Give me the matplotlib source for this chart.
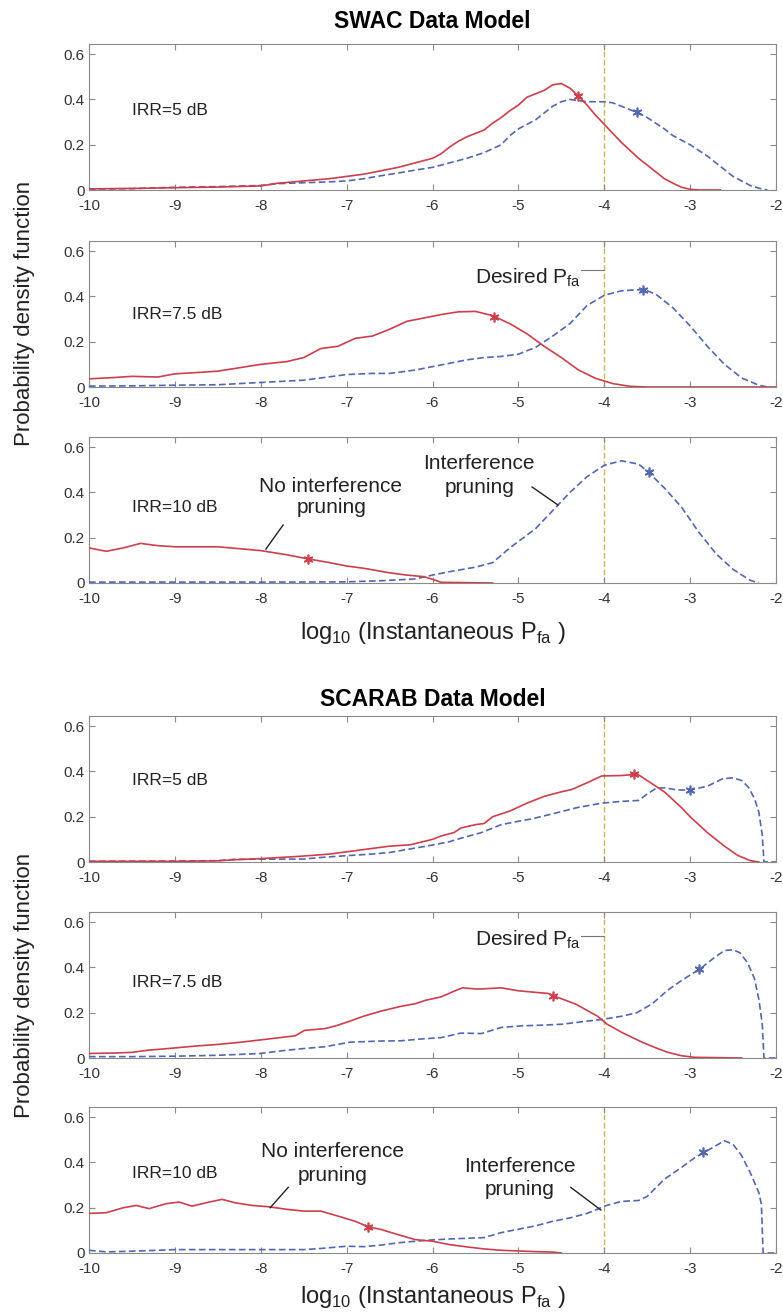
import matplotlib
matplotlib.use("Agg")
import matplotlib.pyplot as plt

plt.rcParams['font.family'] = ['Liberation Sans', 'DejaVu Sans']
plt.rcParams['axes.unicode_minus'] = False
plt.rcParams['mathtext.fontset'] = 'custom'
plt.rcParams['mathtext.rm'] = 'Liberation Sans'

# ---------------- data ----------------
x_ticks = [-10, -9, -8, -7, -6, -5, -4, -3, -2]
x_tick_labels = ['-10', '-9', '-8', '-7', '-6', '-5', '-4', '-3', '-2']
y_ticks = [0, 0.2, 0.4, 0.6]
y_tick_labels = ['0', '0.2', '0.4', '0.6']
desired_pfa = -4.0
model_titles = ['SWAC Data Model', 'SCARAB Data Model']
irr_labels = ['IRR=5 dB', 'IRR=7.5 dB', 'IRR=10 dB']

# SWAC, IRR = 5 dB
swac5_red_x = [-10, -9.5, -9, -8.5, -8, -7.8, -7.5, -7.2, -7.0, -6.8, -6.6, -6.4, -6.2, -6.0, -5.9, -5.8,
               -5.7, -5.6, -5.5, -5.4, -5.3, -5.2, -5.1, -5.0, -4.9, -4.8, -4.7, -4.6, -4.5, -4.4, -4.3,
               -4.2, -4.1, -4.0, -3.9, -3.8, -3.7, -3.6, -3.5, -3.4, -3.3, -3.2, -3.1, -3.0, -2.9, -2.65]
swac5_red_y = [0.005, 0.007, 0.01, 0.013, 0.018, 0.03, 0.04, 0.05, 0.06, 0.07, 0.085, 0.1, 0.12, 0.14, 0.16,
               0.19, 0.215, 0.235, 0.25, 0.265, 0.295, 0.32, 0.35, 0.375, 0.41, 0.425, 0.44, 0.465, 0.47,
               0.45, 0.415, 0.375, 0.33, 0.29, 0.25, 0.21, 0.175, 0.14, 0.11, 0.08, 0.05, 0.03, 0.012,
               0.003, 0.0, 0.0]
swac5_blue_x = [-10, -9.5, -9, -8.5, -8, -7.8, -7.5, -7.2, -7.0, -6.8, -6.6, -6.4, -6.2, -6.0, -5.8, -5.6,
                -5.4, -5.2, -5.1, -5.0, -4.9, -4.8, -4.7, -4.6, -4.5, -4.4, -4.3, -4.2, -4.1, -4.0, -3.9,
                -3.8, -3.7, -3.6, -3.5, -3.4, -3.3, -3.2, -3.0, -2.8, -2.6, -2.5, -2.4, -2.3, -2.2, -2.1]
swac5_blue_y = [0.004, 0.006, 0.012, 0.015, 0.02, 0.028, 0.032, 0.036, 0.04, 0.05, 0.063, 0.075, 0.088,
                0.1, 0.12, 0.14, 0.165, 0.2, 0.24, 0.27, 0.29, 0.31, 0.34, 0.37, 0.39, 0.4, 0.395, 0.39,
                0.39, 0.39, 0.385, 0.37, 0.355, 0.34, 0.32, 0.295, 0.27, 0.24, 0.2, 0.15, 0.09, 0.06, 0.04,
                0.02, 0.008, 0.0]
swac5_red_mark = (-4.3, 0.415)
swac5_blue_mark = (-3.62, 0.345)

# SWAC, IRR = 7.5 dB
swac75_red_x = [-10, -9.7, -9.5, -9.2, -9.0, -8.7, -8.5, -8.2, -8.0, -7.7, -7.5, -7.3, -7.1, -6.9, -6.7,
                -6.5, -6.3, -6.1, -5.9, -5.7, -5.5, -5.3, -5.1, -4.9, -4.7, -4.5, -4.3, -4.1, -3.9, -3.7,
                -3.5, -2.0]
swac75_red_y = [0.036, 0.042, 0.047, 0.044, 0.058, 0.065, 0.07, 0.088, 0.1, 0.112, 0.13, 0.17, 0.18, 0.215,
                0.225, 0.255, 0.29, 0.305, 0.32, 0.332, 0.334, 0.315, 0.28, 0.235, 0.18, 0.13, 0.075, 0.038,
                0.015, 0.003, 0.0, 0.0]
swac75_blue_x = [-10, -9.5, -9.0, -8.5, -8.0, -7.5, -7.2, -7.0, -6.7, -6.5, -6.2, -6.0, -5.8, -5.6, -5.4,
                 -5.2, -5.0, -4.8, -4.6, -4.4, -4.2, -4.0, -3.8, -3.6, -3.5, -3.4, -3.2, -3.0, -2.8, -2.6,
                 -2.4, -2.2, -2.1]
swac75_blue_y = [0.004, 0.005, 0.008, 0.01, 0.02, 0.03, 0.045, 0.055, 0.06, 0.06, 0.075, 0.09, 0.105, 0.12,
                 0.13, 0.135, 0.145, 0.175, 0.225, 0.28, 0.36, 0.405, 0.425, 0.43, 0.425, 0.41, 0.35, 0.27,
                 0.18, 0.1, 0.04, 0.008, 0.0]
swac75_red_mark = (-5.28, 0.31)
swac75_blue_mark = (-3.55, 0.428)

# SWAC, IRR = 10 dB
swac10_red_x = [-10, -9.8, -9.6, -9.4, -9.2, -9.0, -8.5, -8.2, -8.0, -7.7, -7.5, -7.2, -7.0, -6.8, -6.5,
                -6.3, -6.1, -5.95, -5.9, -5.3]
swac10_red_y = [0.155, 0.14, 0.155, 0.175, 0.165, 0.16, 0.16, 0.15, 0.143, 0.125, 0.11, 0.09, 0.075, 0.065,
                0.045, 0.035, 0.028, 0.01, 0.003, 0.0]
swac10_blue_x = [-10, -9, -8, -7, -6.6, -6.2, -6.0, -5.8, -5.5, -5.3, -5.1, -4.8, -4.6, -4.4, -4.2, -4.0,
                 -3.8, -3.6, -3.5, -3.3, -3.1, -2.9, -2.7, -2.5, -2.3, -2.2]
swac10_blue_y = [0.004, 0.004, 0.004, 0.005, 0.01, 0.018, 0.035, 0.05, 0.07, 0.09, 0.155, 0.24, 0.32,
                 0.4, 0.47, 0.52, 0.54, 0.525, 0.495, 0.42, 0.335, 0.225, 0.13, 0.06, 0.012, 0.0]
swac10_red_mark = (-7.45, 0.105)
swac10_blue_mark = (-3.48, 0.49)

# SCARAB, IRR = 5 dB
scarab5_red_x = [-10, -9, -8.5, -8.3, -8.0, -7.55, -7.2, -6.96, -6.7, -6.5, -6.26, -6.0, -5.9, -5.75, -5.67,
                 -5.5, -5.4, -5.3, -5.1, -4.9, -4.7, -4.5, -4.38, -4.2, -4.03, -3.8, -3.7, -3.62, -3.5, -3.3,
                 -3.1, -3.0, -2.8, -2.6, -2.45, -2.3, -2.2]
scarab5_red_y = [0.003, 0.003, 0.005, 0.01, 0.015, 0.025, 0.035, 0.047, 0.06, 0.07, 0.076, 0.1, 0.115, 0.13,
                 0.15, 0.165, 0.17, 0.2, 0.225, 0.26, 0.29, 0.31, 0.32, 0.35, 0.38, 0.382, 0.385, 0.39, 0.36,
                 0.31, 0.24, 0.2, 0.13, 0.07, 0.03, 0.006, 0.0]
scarab5_blue_x = [-10, -9, -8.5, -8.3, -7.5, -7.3, -7.0, -6.7, -6.5, -6.3, -6.0, -5.8, -5.67, -5.43, -5.2,
                  -5.0, -4.85, -4.61, -4.32, -4.03, -3.79, -3.6, -3.5, -3.4, -3.3, -3.15, -3.0, -2.8, -2.62,
                  -2.5, -2.4, -2.32, -2.25, -2.2, -2.16, -2.14, -2.0]
scarab5_blue_y = [0.003, 0.004, 0.006, 0.012, 0.013, 0.02, 0.028, 0.035, 0.042, 0.055, 0.075, 0.09, 0.105,
                  0.13, 0.165, 0.18, 0.19, 0.212, 0.24, 0.26, 0.268, 0.272, 0.3, 0.325, 0.328, 0.318, 0.318,
                  0.335, 0.368, 0.372, 0.36, 0.33, 0.28, 0.22, 0.12, 0.0, 0.0]
scarab5_red_mark = (-3.65, 0.39)
scarab5_blue_mark = (-3.0, 0.318)

# SCARAB, IRR = 7.5 dB
scarab75_red_x = [-10, -9.7, -9.5, -9.3, -9.13, -8.9, -8.72, -8.5, -8.25, -8.0, -7.78, -7.6, -7.49, -7.25,
                  -7.1, -6.96, -6.8, -6.6, -6.37, -6.2, -6.08, -5.9, -5.75, -5.65, -5.5, -5.43, -5.2, -5.0,
                  -4.8, -4.65, -4.58, -4.45, -4.32, -4.2, -4.08, -3.97, -3.79, -3.56, -3.4, -3.26, -3.1,
                  -2.95, -2.4]
scarab75_red_y = [0.02, 0.022, 0.025, 0.035, 0.04, 0.048, 0.054, 0.06, 0.069, 0.08, 0.09, 0.098, 0.122,
                  0.13, 0.145, 0.163, 0.185, 0.207, 0.228, 0.24, 0.255, 0.27, 0.295, 0.31, 0.305, 0.305,
                  0.31, 0.297, 0.29, 0.285, 0.273, 0.255, 0.236, 0.21, 0.185, 0.15, 0.112, 0.07, 0.045,
                  0.025, 0.01, 0.003, 0.0]
scarab75_blue_x = [-10, -9.5, -9.0, -8.5, -8.0, -7.8, -7.55, -7.25, -6.96, -6.6, -6.37, -6.1, -5.9, -5.67,
                   -5.43, -5.2, -4.96, -4.73, -4.5, -4.26, -4.03, -3.79, -3.62, -3.44, -3.26, -3.09, -2.88,
                   -2.73, -2.6, -2.5, -2.42, -2.33, -2.25, -2.2, -2.16, -2.14, -2.0]
scarab75_blue_y = [0.006, 0.006, 0.008, 0.012, 0.02, 0.03, 0.04, 0.05, 0.07, 0.075, 0.076, 0.085, 0.09,
                   0.11, 0.108, 0.135, 0.142, 0.145, 0.149, 0.16, 0.17, 0.185, 0.2, 0.24, 0.3, 0.345, 0.395,
                   0.44, 0.475, 0.478, 0.465, 0.42, 0.35, 0.26, 0.15, 0.0, 0.0]
scarab75_red_mark = (-4.6, 0.272)
scarab75_blue_mark = (-2.9, 0.395)

# SCARAB, IRR = 10 dB
scarab10_red_x = [-10, -9.8, -9.6, -9.45, -9.3, -9.1, -8.95, -8.8, -8.6, -8.45, -8.3, -8.1, -7.9, -7.7,
                  -7.5, -7.3, -7.1, -6.9, -6.75, -6.6, -6.4, -6.2, -6.0, -5.8, -5.6, -5.4, -5.2, -5.0, -4.8,
                  -4.6, -4.5]
scarab10_red_y = [0.175, 0.178, 0.2, 0.21, 0.196, 0.218, 0.225, 0.207, 0.225, 0.237, 0.222, 0.21, 0.204,
                  0.193, 0.185, 0.185, 0.163, 0.14, 0.116, 0.104, 0.081, 0.059, 0.052, 0.037, 0.027, 0.018,
                  0.012, 0.009, 0.006, 0.004, 0.0]
scarab10_blue_x = [-10, -9.8, -9.5, -9.2, -9.0, -8.5, -8.0, -7.5, -7.3, -7.0, -6.8, -6.6, -6.4, -6.2, -6.0,
                   -5.8, -5.6, -5.4, -5.2, -5.0, -4.8, -4.6, -4.4, -4.2, -4.1, -4.0, -3.8, -3.6, -3.5, -3.3,
                   -3.1, -2.95, -2.84, -2.7, -2.6, -2.5, -2.4, -2.3, -2.2, -2.17, -2.15, -2.0]
scarab10_blue_y = [0.012, 0.005, 0.008, 0.012, 0.015, 0.015, 0.015, 0.015, 0.02, 0.03, 0.028, 0.035, 0.045,
                   0.052, 0.058, 0.062, 0.065, 0.068, 0.09, 0.105, 0.12, 0.14, 0.155, 0.175, 0.19, 0.207,
                   0.228, 0.232, 0.25, 0.326, 0.378, 0.42, 0.444, 0.474, 0.496, 0.48, 0.43, 0.355, 0.267,
                   0.215, 0.0, 0.0]
scarab10_red_mark = (-6.75, 0.116)
scarab10_blue_mark = (-2.85, 0.444)

panels = [
    (swac5_red_x, swac5_red_y, swac5_blue_x, swac5_blue_y, swac5_red_mark, swac5_blue_mark),
    (swac75_red_x, swac75_red_y, swac75_blue_x, swac75_blue_y, swac75_red_mark, swac75_blue_mark),
    (swac10_red_x, swac10_red_y, swac10_blue_x, swac10_blue_y, swac10_red_mark, swac10_blue_mark),
    (scarab5_red_x, scarab5_red_y, scarab5_blue_x, scarab5_blue_y, scarab5_red_mark, scarab5_blue_mark),
    (scarab75_red_x, scarab75_red_y, scarab75_blue_x, scarab75_blue_y, scarab75_red_mark, scarab75_blue_mark),
    (scarab10_red_x, scarab10_red_y, scarab10_blue_x, scarab10_blue_y, scarab10_red_mark, scarab10_blue_mark),
]

# ---------------- layout ----------------
W, H = 783, 1315
fig = plt.figure(figsize=(W / 100, H / 100), dpi=100)
fig.patch.set_facecolor('white')

ax_left_px, ax_right_px = 89, 776
ax_h_px = 146
ax_bottoms_px = [190, 387, 583, 862, 1058, 1253]

RED = '#cc3f4c'
BLUE = '#5566b0'
VLINE = '#c9b45a'
SPINE = '#8a8a8a'
TXT = '#222222'
asterisk = (6, 2, 0)

irr_y = [0.331, 0.30, 0.313, 0.34, 0.313, 0.33]

axes = []
for i, (rx, ry, bx, by, rm, bm) in enumerate(panels):
    b = ax_bottoms_px[i]
    ax = fig.add_axes([ax_left_px / W, 1 - b / H, (ax_right_px - ax_left_px) / W, ax_h_px / H])
    axes.append(ax)
    ax.axvline(desired_pfa, color=VLINE, lw=1.0, ls=(0, (4, 2)), zorder=1)
    ax.plot(bx, by, color=BLUE, lw=1.2, ls=(0, (4, 2)), zorder=3)
    ax.plot(rx, ry, color=RED, lw=1.2, zorder=4)
    ax.plot([rm[0]], [rm[1]], ls='none', marker=asterisk, ms=7, mec=RED, mew=1.2, zorder=5)
    ax.plot([bm[0]], [bm[1]], ls='none', marker=asterisk, ms=7, mec=BLUE, mew=1.2, zorder=5)
    ax.set_xlim(-10, -2)
    ax.set_ylim(0, 0.645)
    ax.set_xticks(x_ticks)
    ax.set_xticklabels(x_tick_labels)
    ax.set_yticks(y_ticks)
    ax.set_yticklabels(y_tick_labels)
    ax.tick_params(direction='in', length=4, width=0.8, color=SPINE, top=True, right=True,
                   labelsize=11, labelcolor='#333333')
    ax.tick_params(axis='x', pad=6.5)
    ax.tick_params(axis='y', pad=3)
    for s in ax.spines.values():
        s.set_color(SPINE)
        s.set_linewidth(0.8)
    ax.text(-9.5, irr_y[i], irr_labels[i % 3], fontsize=12.5, va='baseline', ha='left', color=TXT)

# Desired Pfa annotations (panels 2 and 5)
for ax, ty, ly in [(axes[1], 0.459, 0.516), (axes[4], 0.498, 0.538)]:
    ax.text(-4.27, ty, r'Desired P$_{\mathrm{fa}}$', fontsize=15, ha='right', va='baseline', color=TXT)
    ax.plot([-4.27, -4.0], [ly, ly], color='#777777', lw=0.8)

# pruning annotations (panels 3 and 6)
ann = [
    (axes[2], (-7.19, 0.401), (-7.18, 0.309), [(-7.74, -7.94), (0.256, 0.15)],
     (-5.46, 0.503), (-5.45, 0.397), [(-4.84, -4.54), (0.424, 0.345)]),
    (axes[5], (-7.16, 0.424), (-7.16, 0.318), [(-7.68, -7.89), (0.29, 0.2)],
     (-4.98, 0.357), (-4.98, 0.256), [(-4.39, -4.04), (0.29, 0.19)]),
]
for ax, t1, t2, l1, t3, t4, l2 in ann:
    ax.text(*t1, 'No interference', fontsize=15, ha='center', va='baseline', color=TXT)
    ax.text(*t2, 'pruning', fontsize=15, ha='center', va='baseline', color=TXT)
    ax.plot(l1[0], l1[1], color=TXT, lw=1.0, zorder=6)
    ax.text(*t3, 'Interference', fontsize=15, ha='center', va='baseline', color=TXT)
    ax.text(*t4, 'pruning', fontsize=15, ha='center', va='baseline', color=TXT)
    ax.plot(l2[0], l2[1], color=TXT, lw=1.0, zorder=6)

# titles and axis labels
xc = (ax_left_px + ax_right_px) / 2 / W
fig.text(xc, 1 - 22 / H, model_titles[0], fontsize=16.5, fontweight='bold', ha='center', va='center')
fig.text(xc, 1 - 700 / H, model_titles[1], fontsize=16.5, fontweight='bold', ha='center', va='center')
xlab = r'log$_{\mathrm{10}}$ (Instantaneous P$_{\mathrm{fa}}$ )'
fig.text(xc, 1 - 633 / H, xlab, fontsize=17, ha='center', va='center', color=TXT)
fig.text(xc, 1 - 1297 / H, xlab, fontsize=17, ha='center', va='center', color=TXT)
for yc in [(44 + 583) / 2, (717 + 1253) / 2]:
    fig.text(25 / W, 1 - yc / H, 'Probability density function', fontsize=16, rotation=90,
             ha='center', va='center', color=TXT)

fig.savefig('out.png', dpi=100, facecolor='white')
